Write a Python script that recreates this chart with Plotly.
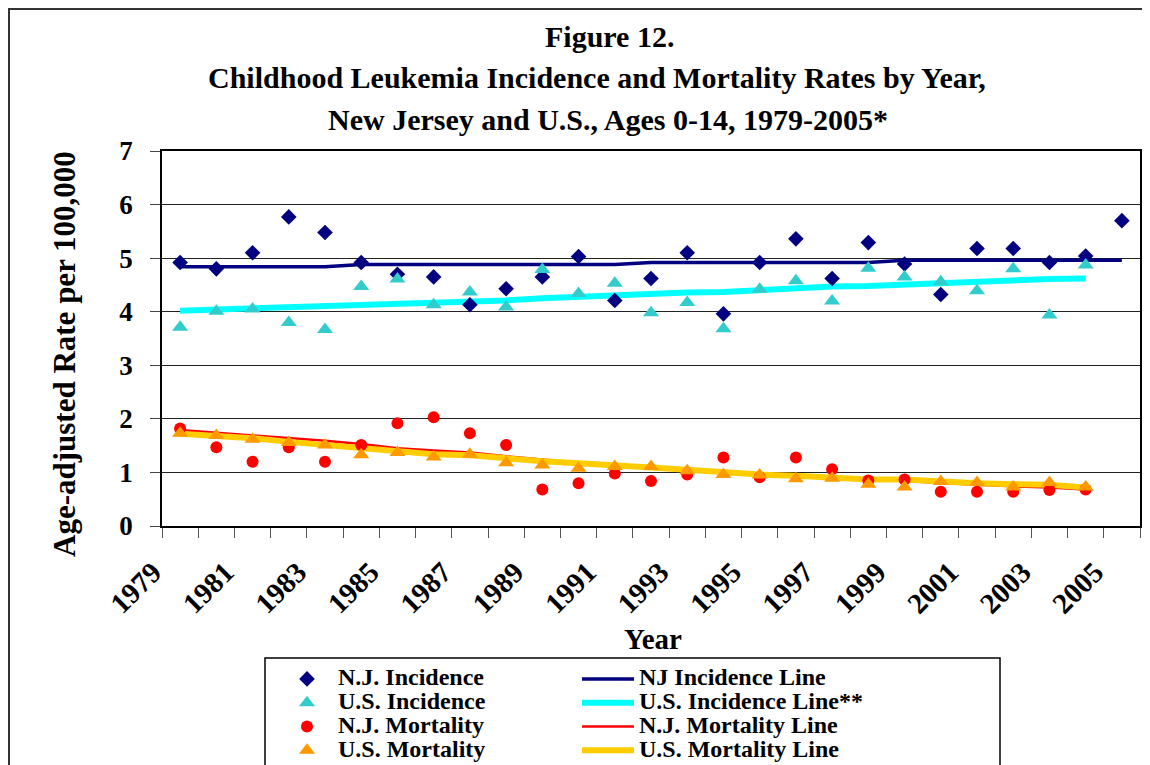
import plotly.graph_objects as go

years = list(range(1979, 2006))
years_us = list(range(1979, 2005))

nj_incidence = [4.92, 4.80, 5.10, 5.77, 5.48, 4.92, 4.70, 4.65, 4.13, 4.43, 4.65, 5.03, 4.21, 4.62,
                5.10, 3.96, 4.92, 5.36, 4.62, 5.29, 4.89, 4.32, 5.18, 5.18, 4.92, 5.04, 5.70]
nj_incidence_line = [4.84] * 5 + [4.88] * 8 + [4.92] * 7 + [4.96] * 7
us_incidence = [3.71, 4.01, 4.05, 3.80, 3.67, 4.47, 4.61, 4.13, 4.37, 4.09, 4.79, 4.34, 4.53,
                3.98, 4.17, 3.68, 4.42, 4.58, 4.20, 4.81, 4.65, 4.56, 4.39, 4.80, 3.94, 4.87]
us_incidence_line = [4.02, 4.04, 4.06, 4.10, 4.11, 4.14, 4.15, 4.16, 4.19, 4.21, 4.25, 4.28, 4.29,
                     4.33, 4.36, 4.37, 4.41, 4.44, 4.47, 4.48, 4.51, 4.53, 4.56, 4.59, 4.61, 4.62]
nj_mortality = [1.82, 1.47, 1.20, 1.47, 1.20, 1.51, 1.92, 2.03, 1.73, 1.51, 0.68, 0.80, 0.98,
                0.84, 0.96, 1.28, 0.91, 1.28, 1.06, 0.85, 0.87, 0.64, 0.64, 0.64, 0.67, 0.68]
nj_mortality_line = [1.79, 1.74, 1.70, 1.65, 1.59, 1.53, 1.45, 1.41, 1.37, 1.30, 1.24, 1.18, 1.14,
                     1.10, 1.06, 1.01, 0.97, 0.94, 0.89, 0.86, 0.84, 0.80, 0.77, 0.74, 0.72, 0.68]
us_mortality = [1.73, 1.69, 1.62, 1.56, 1.51, 1.33, 1.37, 1.29, 1.34, 1.18, 1.14, 1.08, 1.11,
                1.11, 1.03, 0.96, 0.95, 0.88, 0.89, 0.78, 0.73, 0.83, 0.81, 0.73, 0.81, 0.73]
us_mortality_line = [1.72, 1.68, 1.64, 1.57, 1.51, 1.45, 1.39, 1.34, 1.32, 1.26, 1.21, 1.17, 1.14,
                     1.09, 1.05, 1.00, 0.96, 0.94, 0.90, 0.87, 0.87, 0.83, 0.80, 0.78, 0.77, 0.72]

tick_years = list(range(1979, 2006, 2))
y_ticks = list(range(0, 8))

FONT = "Liberation Serif"
LEG_TXT = 24


def leg_name(s):
    return f"<span style='font-size:{LEG_TXT}px'>{s}</span>"


fig = go.Figure()

# trend lines (drawn below the markers), right legend column
fig.add_trace(go.Scatter(x=years, y=nj_incidence_line, mode="lines", name=leg_name("NJ Incidence Line"),
                         line=dict(color="#000080", width=3.5), legend="legend2", legendrank=1))
fig.add_trace(go.Scatter(x=years_us, y=us_incidence_line, mode="lines",
                         name=leg_name("U.S. Incidence Line**"),
                         line=dict(color="#00FFFF", width=6), legend="legend2", legendrank=2))
fig.add_trace(go.Scatter(x=years_us, y=nj_mortality_line, mode="lines", name=leg_name("N.J. Mortality Line"),
                         line=dict(color="#FF0000", width=2.5), legend="legend2", legendrank=3))
fig.add_trace(go.Scatter(x=years_us, y=us_mortality_line, mode="lines", name=leg_name("U.S. Mortality Line"),
                         line=dict(color="#FFCC00", width=6), legend="legend2", legendrank=4))
# observed rates, left legend column
fig.add_trace(go.Scatter(x=years, y=nj_incidence, mode="markers", name=leg_name("N.J. Incidence"),
                         marker=dict(symbol="diamond", color="#000080", size=12), legend="legend", legendrank=1))
fig.add_trace(go.Scatter(x=years_us, y=us_incidence, mode="markers", name=leg_name("U.S. Incidence"),
                         marker=dict(symbol="triangle-up", color="#33CCCC", size=14), legend="legend", legendrank=2))
fig.add_trace(go.Scatter(x=years_us, y=nj_mortality, mode="markers", name=leg_name("N.J. Mortality"),
                         marker=dict(symbol="circle", color="#FF0000", size=12), legend="legend", legendrank=3))
fig.add_trace(go.Scatter(x=years_us, y=us_mortality, mode="markers", name=leg_name("U.S. Mortality"),
                         marker=dict(symbol="triangle-up", color="#FF9900", size=14), legend="legend", legendrank=4))

OFF = 8  # page offset of the figure inside the browser window
W, H = 1150 - OFF, 765 - OFF
L, T = 162 - OFF, 151 - OFF
R = W - (1140 - OFF)
B = H - (526 - OFF)
pw, ph = W - L - R, H - T - B


def px_x(x):  # screen x -> paper fraction
    return (x - OFF - L) / pw


def px_y(y):  # screen y -> paper fraction
    return (H - B - (y - OFF)) / ph


leg_common = dict(orientation="v", xanchor="left", yanchor="top", itemwidth=52,
                  font=dict(size=16, family=FONT, weight="bold"),
                  bgcolor="rgba(0,0,0,0)", borderwidth=0, traceorder="normal")

bold = lambda s: dict(size=s, family=FONT, weight="bold", color="black")

fig.update_layout(
    width=W, height=H,
    margin=dict(l=L, r=R, t=T, b=B, autoexpand=False),
    paper_bgcolor="white", plot_bgcolor="white",
    font=dict(family=FONT, color="black", weight="bold"),
    showlegend=True,
    legend=dict(x=px_x(276), y=px_y(662), **leg_common),
    legend2=dict(x=px_x(577), y=px_y(662), **leg_common),
    xaxis=dict(range=[1978.5, 2005.5], tickmode="array", tickvals=tick_years,
               ticktext=[str(y) for y in tick_years], tickangle=-45, ticks="",
               tickfont=bold(29), ticklabelshift=-27, ticklabelstandoff=16,
               minor=dict(ticks="outside", ticklen=10, tick0=1978.5, dtick=1,
                          tickcolor="#555", tickwidth=1, showgrid=False),
               showgrid=False, showline=True, linecolor="black", linewidth=1.5, mirror=True,
               zeroline=False),
    yaxis=dict(range=[0, 7], tickvals=y_ticks, ticks="outside", ticklen=10, tickcolor="#444",
               tickfont=bold(27), ticklabelstandoff=12,
               showgrid=True, gridcolor="#222", gridwidth=1,
               showline=True, linecolor="black", linewidth=1.5, mirror=True, zeroline=False),
    shapes=[
        dict(type="rect", xref="paper", yref="paper", x0=px_x(9), x1=px_x(1170),
             y0=px_y(800), y1=px_y(9), line=dict(color="#333", width=2), layer="below"),
        dict(type="rect", xref="paper", yref="paper", x0=px_x(265), x1=px_x(1000),
             y0=px_y(800), y1=px_y(658), line=dict(color="black", width=1.5), layer="below"),
    ],
    annotations=[
        dict(text="Figure 12.", xref="paper", yref="paper", x=px_x(609), y=px_y(36),
             xanchor="center", yanchor="middle", showarrow=False, font=bold(30)),
        dict(text="Childhood Leukemia Incidence and Mortality Rates by Year,", xref="paper",
             yref="paper", x=px_x(597), y=px_y(78), xanchor="center", yanchor="middle",
             showarrow=False, font=bold(30)),
        dict(text="New Jersey and U.S., Ages 0-14, 1979-2005*", xref="paper", yref="paper",
             x=px_x(608), y=px_y(119), xanchor="center", yanchor="middle",
             showarrow=False, font=bold(30)),
        dict(text="Age-adjusted Rate per 100,000", xref="paper", yref="paper",
             x=px_x(64), y=px_y(354), xanchor="center", yanchor="middle", textangle=-90,
             showarrow=False, font=bold(31)),
        dict(text="Year", xref="paper", yref="paper", x=px_x(653), y=px_y(639),
             xanchor="center", yanchor="middle", showarrow=False, font=bold(29)),
    ],
)

fig.write_html("out.html")
